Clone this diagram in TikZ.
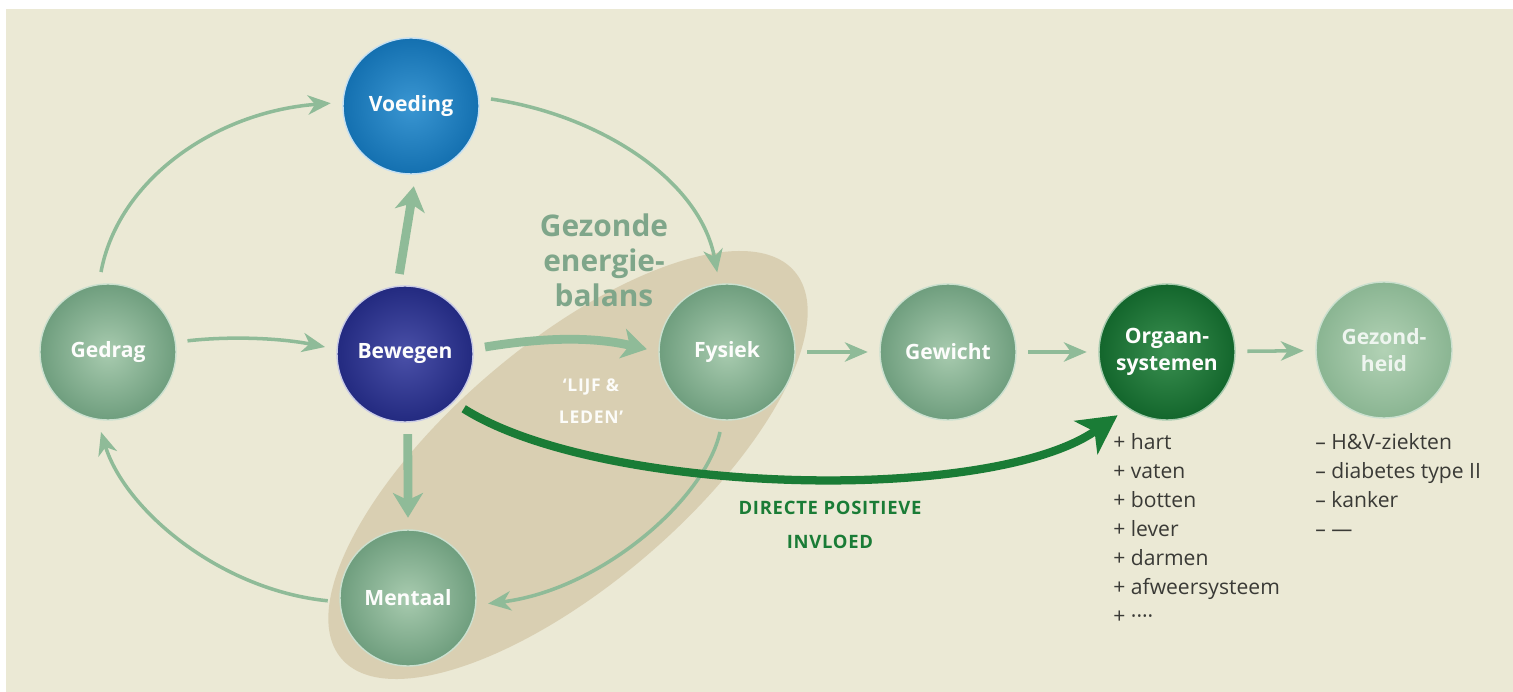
\documentclass[tikz,border=0pt]{standalone}
\usepackage{fontspec}
\setmainfont{Open Sans}
\newfontfamily\spatie[LetterSpace=4]{Open Sans}
\usetikzlibrary{arrows.meta}

\definecolor{achtergrond}{HTML}{EBE9D5}
\definecolor{zandkleur}{HTML}{D9CFB2}
\definecolor{groenlicht}{HTML}{A8CBAF}
\definecolor{groendonker}{HTML}{6F9E7E}
\definecolor{blauwlicht}{HTML}{3A96D2}
\definecolor{blauwdonker}{HTML}{1470B0}
\definecolor{paarslicht}{HTML}{4A50A8}
\definecolor{paarsdonker}{HTML}{232A80}
\definecolor{orgaanlicht}{HTML}{3A8F50}
\definecolor{orgaandonker}{HTML}{13662C}
\definecolor{gezondlicht}{HTML}{B2D2B5}
\definecolor{gezonddonker}{HTML}{8AB592}
\definecolor{pijlgroen}{HTML}{8FBB98}
\definecolor{donkergroen}{HTML}{1A7C36}
\definecolor{labelgroen}{HTML}{7FA68A}
\definecolor{lijsttekst}{HTML}{3A3A36}

\begin{document}
\begin{tikzpicture}[x=0.02cm,y=-0.02cm,
    bol/.style={circle, minimum size=2.72cm, inner sep=0pt, outer sep=7pt,
      line width=0.8pt, text=white!92!achtergrond, align=center,
      font=\fontsize{12}{15}\selectfont\bfseries},
    groen/.style={bol, inner color=groenlicht, outer color=groendonker, draw=groenlicht!60!white},
    pijl/.style={draw=pijlgroen, line width=2pt, -{Stealth[length=13pt,width=11pt,inset=4pt]}},
    dikpijl/.style={draw=pijlgroen, line width=5pt, -{Stealth[length=14pt,width=17pt,inset=4pt]}},
    lijst/.style={anchor=north west, align=left, inner sep=0pt, text=lijsttekst,
      font=\fontsize{12}{16.5}\selectfont}]

  % achtergrond
  \useasboundingbox (0,0) rectangle (1513,692);
  \fill[white] (0,0) rectangle (1513,692);
  \fill[achtergrond] (6,9) rectangle (1513,692);
  \fill[zandkleur, rotate around={40.5:(568,465)}] (568,465) ellipse [x radius=298, y radius=120];

  % bollen
  \node[groen] (gedrag) at (108,352) {Gedrag};
  \node[bol, inner color=blauwlicht, outer color=blauwdonker, draw=white!70!blauwlicht] (voeding) at (411,106) {Voeding};
  \node[bol, inner color=paarslicht, outer color=paarsdonker, draw=white!70!paarslicht] (bewegen) at (405,354) {Bewegen};
  \node[groen] (mentaal) at (408,598) {Mentaal};
  \node[groen] (fysiek) at (727,352) {Fysiek};
  \node[groen] (gewicht) at (948,352) {Gewicht};
  \node[bol, inner color=orgaanlicht, outer color=orgaandonker, draw=groenlicht] (organen) at (1167,352) {Orgaan-\\systemen};
  \node[groen, inner color=gezondlicht, outer color=gezonddonker, text=white!80!groenlicht] (gezond) at (1384,350) {Gezond-\\heid};

  % teksten
  \node[text=labelgroen, align=center, font=\fontsize{17}{20}\selectfont\bfseries] (balans) at (604,260) {Gezonde\\energie-\\balans};
  \node[text=white!85!achtergrond, align=center, font=\fontsize{10}{18}\spatie\bfseries] (lijf) at (591,401) {‘LIJF \&\\LEDEN’};
  \node[text=donkergroen, align=center, font=\fontsize{10.5}{19}\spatie\bfseries] (invloed) at (830,525) {DIRECTE POSITIEVE\\INVLOED};
  \node[lijst] (organenlijst) at (1113,433) {+ hart\\+ vaten\\+ botten\\+ lever\\+ darmen\\+ afweersysteem\\+ ····};
  \node[lijst] (ziektenlijst) at (1315,433) {– H\&V-ziekten\\– diabetes type II\\– kanker\\– —};

  % pijlen
  \draw[pijl] (gedrag.95) .. controls (118,180) and (215,112) .. (voeding.178);
  \draw[pijl] (voeding.5) .. controls (600,115) and (700,180) .. (fysiek.97);
  \draw[pijl] (gedrag.8) .. controls (230,336) and (280,338) .. (bewegen.175);
  \draw[pijl] (fysiek.265) .. controls (705,500) and (600,590) .. (mentaal.-4);
  \draw[pijl] (mentaal.182) .. controls (220,590) and (125,510) .. (gedrag.265);
  \draw[pijl] (fysiek) -- (gewicht);
  \draw[pijl] (gewicht) -- (organen);
  \draw[pijl] (organen) -- (gezond);
  \draw[dikpijl] (bewegen.94) -- (voeding.272);
  \draw[dikpijl] (bewegen.272) -- (mentaal.90);
  \draw[dikpijl] (bewegen.5) .. controls (540,338) and (590,336) .. (fysiek.178);
  \draw[draw=donkergroen, line width=4.7pt, -{Stealth[length=22pt,width=23pt,inset=6pt]}]
    (bewegen.-43) .. controls (600,495) and (990,505) .. (organen.232);
\end{tikzpicture}
\end{document}
